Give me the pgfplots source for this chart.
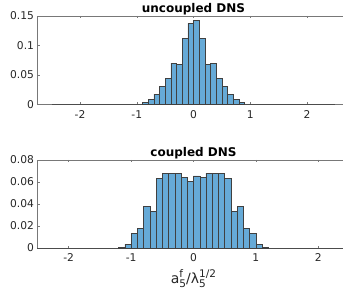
\documentclass[border=0pt]{standalone}
\usepackage{fontspec}
\setmainfont{DejaVu Sans}
\usepackage{pgfplots}
\pgfplotsset{compat=1.18}
\definecolor{barfill}{RGB}{102,170,215}
\definecolor{txt}{RGB}{38,38,38}
\definecolor{axc}{RGB}{120,120,120}
\newcommand{\ssz}{\fontsize{10.5}{12}\selectfont}
\newcommand{\supsub}[2]{\setbox0\hbox{\ssz #1}\setbox2\hbox{\ssz #2}\raisebox{5.5pt}{\copy0}\kern-\wd0\raisebox{-4.5pt}{\copy2}\ifdim\wd0>\wd2 \kern\dimexpr\wd0-\wd2\relax\fi}
\pgfplotsset{
  myax/.style={
    scale only axis, width=312pt,
    axis line style={axc, line width=0.5pt},
    tick style={axc, line width=0.5pt},
    major tick length=2.5pt,
    tick align=inside,
    xtick pos=both, ytick pos=left,
    xtick={-2,-1,0,1,2},
    font=\fontsize{10.7}{12}\selectfont,
    tick label style={txt},
    /pgf/number format/assume math mode=true,
    /pgf/number format/fixed, /pgf/number format/precision=2,
    scaled y ticks=false,
    title style={font=\fontsize{12}{14}\selectfont\bfseries, black, yshift=-9pt},
    xticklabel style={yshift=-2.5pt},
    clip=false,
  },
  hist/.style={ybar interval, fill=barfill, draw=black!75, line width=0.45pt},
}
\begin{document}
\begin{tikzpicture}
\useasboundingbox (0pt,0pt) rectangle (343pt,295pt);
\begin{axis}[myax, at={(37.5pt,190.5pt)}, anchor=south west, height=88.5pt,
  xmin=-2.75, xmax=2.75, ymin=0, ymax=0.15, ytick={0,0.05,0.1,0.15},
  title={uncoupled DNS}]
\addplot[draw=black!70, line width=0.6pt] coordinates {(-2.5,0) (2.5,0)};
\addplot[hist] coordinates {
(-0.9,0.0034) (-0.8,0.009) (-0.7,0.0175) (-0.6,0.0306) (-0.5,0.0447)
(-0.4,0.070) (-0.3,0.0685) (-0.2,0.112) (-0.1,0.1375) (0.0,0.143)
(0.1,0.112) (0.2,0.0685) (0.3,0.070) (0.4,0.0447) (0.5,0.0306)
(0.6,0.0175) (0.7,0.009) (0.8,0.0034) (0.9,0.0034)};
\end{axis}
\begin{axis}[myax, at={(37.5pt,47pt)}, anchor=south west, height=88pt,
  xmin=-2.5, xmax=2.5, ymin=0, ymax=0.08, ytick={0,0.02,0.04,0.06,0.08},
  title={coupled DNS},
  xlabel={a\supsub{f}{5}/λ\supsub{1/2}{5}},
  xlabel style={txt, font=\fontsize{14}{16}\selectfont, yshift=-1pt}]
\addplot[draw=black!70, line width=0.6pt] coordinates {(-2.5,0) (2.5,0)};
\addplot[hist] coordinates {
(-1.2,0.0009) (-1.1,0.0036) (-1.0,0.0136) (-0.9,0.018) (-0.8,0.038)
(-0.7,0.033) (-0.6,0.0634) (-0.5,0.068) (-0.4,0.068) (-0.3,0.068)
(-0.2,0.0643) (-0.1,0.0607) (0.0,0.0655) (0.1,0.0643) (0.2,0.068)
(0.3,0.068) (0.4,0.068) (0.5,0.0634) (0.6,0.033) (0.7,0.038)
(0.8,0.018) (0.9,0.0136) (1.0,0.0036) (1.1,0.0009) (1.2,0.0009)};
\end{axis}
\end{tikzpicture}
\end{document}
